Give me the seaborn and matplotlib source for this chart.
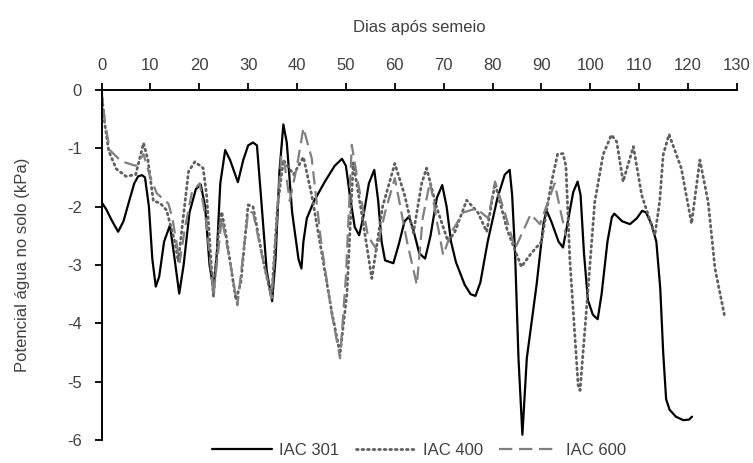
import matplotlib
matplotlib.use("Agg")
import matplotlib.pyplot as plt
import seaborn as sns
import pandas as pd

# ---- data ----
days_301 = [0, 1, 2, 3.4, 4.5, 5.5, 6.7, 7.5, 8.3, 8.9, 9.7, 10.4, 11.1, 11.8, 12.8, 14, 14.8,
            15.9, 16.8, 18, 19.3, 20.3, 21.2, 22.1, 22.9, 23.6, 24.3, 25.3, 26.3, 27.9, 29, 30,
            31, 31.8, 32.6, 33.8, 34.9, 35.6, 36.4, 37.2, 37.9, 39, 40.3, 40.9, 41.3, 42, 43.5,
            45.7, 47.7, 49.2, 50, 50.8, 51.8, 52.7, 53.5, 54.7, 55.8, 56.6, 57.3, 58, 59.7,
            60.8, 62, 62.9, 63.8, 65, 66.2, 67.3, 68.6, 69.7, 70.6, 71.5, 72.5, 74.3, 75.5,
            76.5, 77.5, 79, 81, 82.5, 83.5, 84, 84.6, 85.3, 86.1, 87, 89, 90.4, 91, 92, 93.5,
            94.4, 95.3, 96.5, 97.4, 98, 98.7, 99.5, 100.5, 101.5, 102.3, 103.5, 104.4, 104.9,
            106.5, 108.1, 109.5, 110.6, 111.4, 112.5, 113.5, 114.3, 114.9, 115.5, 116.2,
            117.5, 119, 120.2, 120.8]
iac_301 = [-1.92, -2.05, -2.22, -2.43, -2.25, -1.95, -1.6, -1.48, -1.46, -1.5, -2.0, -2.9, -3.37,
           -3.2, -2.6, -2.32, -2.8, -3.49, -3.0, -2.1, -1.7, -1.62, -2.0, -3.0, -3.40, -2.8,
           -1.6, -1.03, -1.2, -1.58, -1.2, -0.95, -0.9, -0.95, -1.8, -3.1, -3.62, -2.9, -1.4,
           -0.59, -0.9, -2.1, -2.9, -3.06, -2.6, -2.2, -1.9, -1.57, -1.3, -1.18, -1.3, -1.8,
           -2.35, -2.49, -2.2, -1.6, -1.37, -1.9, -2.6, -2.92, -2.97, -2.65, -2.25, -2.17,
           -2.4, -2.8, -2.89, -2.5, -1.85, -1.63, -2.0, -2.6, -2.95, -3.34, -3.5, -3.53, -3.3,
           -2.6, -1.85, -1.45, -1.37, -1.8, -2.8, -4.6, -5.91, -4.6, -3.34, -2.3, -2.06, -2.25,
           -2.6, -2.70, -2.3, -1.75, -1.57, -1.8, -2.8, -3.6, -3.85, -3.93, -3.5, -2.6, -2.18,
           -2.12, -2.25, -2.30, -2.2, -2.07, -2.1, -2.3, -2.6, -3.4, -4.5, -5.3, -5.48, -5.6,
           -5.66, -5.65, -5.6]

days_400 = [0, 0.7, 1.5, 3, 5, 7, 8.6, 9.5, 10.6, 12, 13.3, 15, 15.7, 16.7, 17.8, 19.1, 20.8,
            21.5, 22.9, 24, 24.6, 25.5, 27.5, 28.5, 30, 31, 33, 34.8, 36, 37.2, 39.3, 41.3, 43,
            45, 47.1, 48.8, 50.2, 51.5, 53, 55.3, 57.5, 60, 62, 63.8, 65.5, 66.5, 68.5, 70.9,
            72.3, 74.7, 77, 78.8, 80.5, 83, 85.9, 87.9, 90, 92, 93.3, 94.4, 95, 95.8, 97.5,
            97.9, 99.6, 100.9, 102.6, 104.3, 105.4, 106.7, 108.8, 110.5, 113.2, 114.2, 114.9,
            116.1, 118.6, 120.7, 122.4, 124.1, 125.5, 127.4]
iac_400 = [-0.05, -0.6, -1.05, -1.35, -1.48, -1.45, -0.91, -1.2, -1.9, -1.94, -2.06, -2.6, -2.94,
           -2.2, -1.4, -1.23, -1.34, -1.8, -3.54, -2.4, -2.09, -2.5, -3.6, -3.3, -1.97, -2.0,
           -2.9, -3.57, -2.0, -1.2, -1.45, -1.15, -1.8, -2.77, -3.8, -4.52, -3.5, -1.25, -2.0,
           -3.23, -2.0, -1.26, -1.8, -2.45, -1.6, -1.34, -2.0, -2.6, -2.43, -1.89, -2.1, -2.43,
           -1.6, -2.4, -3.03, -2.8, -2.6, -1.6, -1.1, -1.09, -1.3, -2.9, -5.06, -5.15, -3.34,
           -1.92, -1.11, -0.77, -0.89, -1.57, -0.97, -1.80, -2.49, -1.9, -1.11, -0.76, -1.34,
           -2.29, -1.20, -1.92, -3.06, -3.85]

days_600 = [0, 0.7, 1.7, 4, 7, 8.6, 10, 11.3, 13.7, 14.5, 16, 17, 18.5, 20.1, 21.5, 22.9, 24.6,
            26, 27.8, 29, 30, 31, 33, 34.8, 36, 36.8, 37.5, 38.5, 40, 41.3, 43, 45, 47.1, 48.8,
            50, 51.2, 52.5, 54.5, 56.3, 58, 60, 62.5, 64.5, 65.7, 67.2, 68.5, 69.9, 71.5, 74,
            76.7, 79.1, 80.5, 82.5, 84.6, 87.8, 89.7, 92.7, 95]
iac_600 = [0, -0.55, -1.03, -1.22, -1.3, -1.1, -1.5, -1.77, -1.95, -2.2, -2.95, -2.4, -1.75, -1.6,
           -2.3, -3.52, -2.2, -2.8, -3.69, -2.8, -2.09, -2.1, -2.9, -3.57, -2.0, -1.11, -1.3,
           -1.9, -1.3, -0.65, -1.17, -2.66, -3.83, -4.6, -3.2, -0.94, -1.6, -2.5, -2.74, -2.1,
           -1.51, -2.6, -3.34, -2.2, -1.57, -2.2, -2.83, -2.45, -2.1, -2.03, -2.2, -1.57, -2.1,
           -2.72, -2.13, -2.3, -1.6, -2.5]

series_names = ["IAC 301", "IAC 400", "IAC 600"]
x_ticks = list(range(0, 131, 10))
y_ticks = [0, -1, -2, -3, -4, -5, -6]
x_label = "Dias após semeio"
y_label = "Potencial água no solo (kPa)"

# ---- style ----
sns.set_style("white")
plt.rcParams["font.family"] = ["Liberation Sans", "DejaVu Sans"]
plt.rcParams["axes.unicode_minus"] = False
text_color = "#404040"
fs = 12

fig = plt.figure(figsize=(7.53, 4.63), dpi=100)
ax = fig.add_axes([101.5 / 753, 23 / 463, 635.5 / 753, 350 / 463])

df301 = pd.DataFrame({"d": days_301, "v": iac_301})
df400 = pd.DataFrame({"d": days_400, "v": iac_400})
df600 = pd.DataFrame({"d": days_600, "v": iac_600})

sns.lineplot(data=df301, x="d", y="v", ax=ax, color="black", linewidth=1.6,
             label=series_names[0], sort=False)
sns.lineplot(data=df400, x="d", y="v", ax=ax, color="#5f5f5f", linewidth=2.0,
             linestyle=(0, (0.6, 1.4)), dash_capstyle="round",
             label=series_names[1], sort=False)
sns.lineplot(data=df600, x="d", y="v", ax=ax, color="#808080", linewidth=1.6,
             linestyle=(0, (6, 3)), label=series_names[2], sort=False)
for ln in ax.get_lines():
    ln.set_solid_joinstyle("round")
    ln.set_dash_joinstyle("round")

ax.set_xlim(0, 130)
ax.set_ylim(-6, 0)
ax.xaxis.tick_top()
ax.xaxis.set_label_position("top")
ax.set_xticks(x_ticks)
ax.set_xticklabels([str(t) for t in x_ticks])
ax.set_yticks(y_ticks)
ax.set_yticklabels([str(t) for t in y_ticks])
ax.set_xlabel(x_label, fontsize=fs, color=text_color, labelpad=19)
ax.set_ylabel(y_label, fontsize=fs, color=text_color, labelpad=27)
ax.tick_params(axis="both", labelsize=fs, labelcolor=text_color, length=5, width=1.3,
               color="black", direction="out")
ax.tick_params(axis="x", pad=7, top=True, bottom=False)
ax.tick_params(axis="y", pad=9, left=True)

for side in ["right", "bottom"]:
    ax.spines[side].set_visible(False)
for side in ["top", "left"]:
    ax.spines[side].set_visible(True)
    ax.spines[side].set_color("black")
    ax.spines[side].set_linewidth(1.4)
ax.grid(False)

handles, labels = ax.get_legend_handles_labels()
ax.legend(handles, labels, loc="center", bbox_to_anchor=(0.5, -0.03), ncol=3,
          frameon=False, fontsize=fs, handlelength=3.6, columnspacing=1.0,
          handletextpad=0.4, labelcolor=text_color)

fig.savefig("out.png", dpi=100)
